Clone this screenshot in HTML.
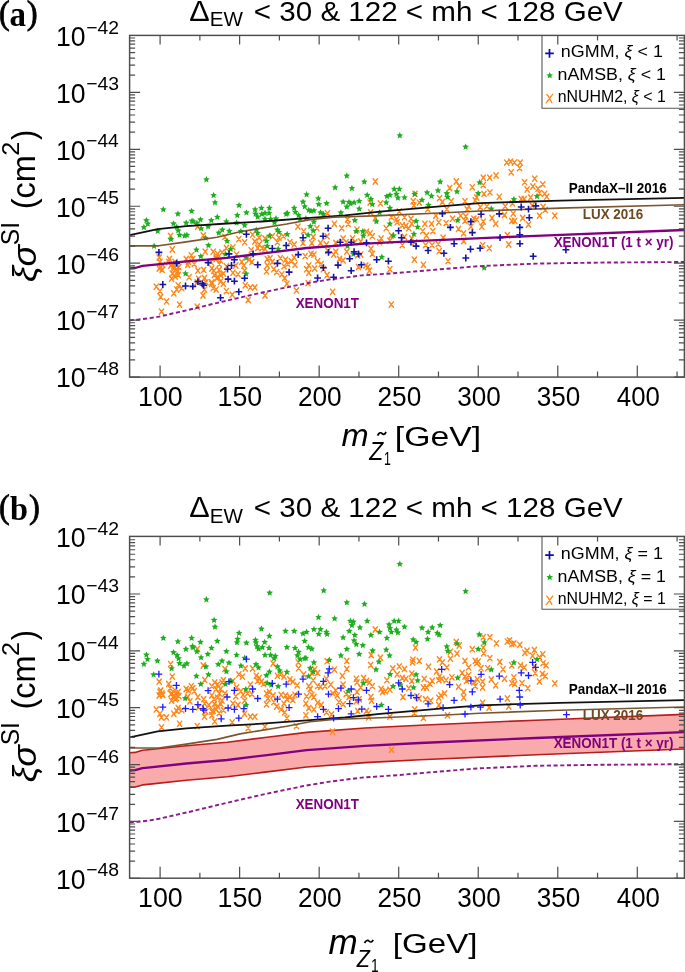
<!DOCTYPE html>
<html><head><meta charset="utf-8"><style>
html,body{margin:0;padding:0;background:#fff;width:685px;height:972px;overflow:hidden}
svg{display:block;will-change:transform}
</style></head><body>
<svg width="685" height="972" viewBox="0 0 685 972"><defs><path id="o" d="M-2.15,-2.7L2.15,2.7M2.15,-2.7L-2.15,2.7" stroke="#ff8719" stroke-width="1.4" stroke-linecap="round" fill="none"/><polygon id="g" points="0.00,-3.20 0.97,-1.03 3.33,-0.78 1.57,0.81 2.06,3.13 0.00,1.95 -2.06,3.13 -1.57,0.81 -3.33,-0.78 -0.97,-1.03" fill="#1fae1f"/><path id="ba" d="M-3.4,0H3.4M0,-3.4V3.4" stroke="#1414a8" stroke-width="1.6" fill="none"/><path id="bb" d="M-3.4,0H3.4M0,-3.4V3.4" stroke="#1c1cff" stroke-width="1.3" fill="none"/></defs>
<rect width="685" height="972" fill="#fff"/>
<g><use href="#o" x="506.7" y="162.6"/><use href="#o" x="510.6" y="161.7"/><use href="#o" x="514.4" y="162.6"/><use href="#o" x="520.2" y="162.6"/><use href="#o" x="511.2" y="172.3"/><use href="#o" x="519.6" y="168.1"/><use href="#o" x="496.1" y="175.5"/><use href="#o" x="489.7" y="177.7"/><use href="#o" x="483.3" y="177.7"/><use href="#o" x="534.7" y="178.7"/><use href="#o" x="166.5" y="301.4"/><use href="#o" x="179.6" y="304.6"/><use href="#o" x="161.5" y="311.6"/><use href="#o" x="197.2" y="306.7"/><use href="#o" x="248.2" y="300.0"/><use href="#o" x="391.3" y="304.6"/><use href="#o" x="197.6" y="226.7"/><use href="#o" x="170.6" y="235.9"/><use href="#o" x="203.3" y="235.5"/><use href="#o" x="224.9" y="236.9"/><use href="#o" x="297.9" y="226.7"/><use href="#o" x="303.7" y="231.1"/><use href="#o" x="316.9" y="228.2"/><use href="#o" x="327.5" y="213.3"/><use href="#o" x="252.6" y="234.7"/><use href="#o" x="259.2" y="237.7"/><use href="#o" x="265.0" y="238.4"/><use href="#o" x="272.3" y="236.2"/><use href="#o" x="283.3" y="236.2"/><use href="#o" x="313.2" y="236.9"/><use href="#o" x="327.1" y="236.2"/><use href="#o" x="238.8" y="239.1"/><use href="#o" x="278.9" y="237.7"/><use href="#o" x="375.3" y="181.5"/><use href="#o" x="380.4" y="203.4"/><use href="#o" x="370.1" y="202.6"/><use href="#o" x="370.6" y="212.4"/><use href="#o" x="413.2" y="201.2"/><use href="#o" x="419.3" y="202.6"/><use href="#o" x="413.9" y="205.5"/><use href="#o" x="415.0" y="193.9"/><use href="#o" x="427.8" y="209.2"/><use href="#o" x="399.3" y="211.4"/><use href="#o" x="391.3" y="217.2"/><use href="#o" x="396.4" y="219.4"/><use href="#o" x="404.5" y="217.2"/><use href="#o" x="411.0" y="218.7"/><use href="#o" x="334.4" y="223.8"/><use href="#o" x="347.5" y="219.4"/><use href="#o" x="348.2" y="224.1"/><use href="#o" x="341.7" y="228.2"/><use href="#o" x="357.0" y="229.6"/><use href="#o" x="366.5" y="231.8"/><use href="#o" x="370.1" y="233.3"/><use href="#o" x="372.3" y="236.2"/><use href="#o" x="386.2" y="228.2"/><use href="#o" x="391.3" y="235.5"/><use href="#o" x="397.2" y="222.3"/><use href="#o" x="402.3" y="225.3"/><use href="#o" x="405.9" y="226.0"/><use href="#o" x="411.8" y="223.8"/><use href="#o" x="408.8" y="228.2"/><use href="#o" x="424.9" y="223.8"/><use href="#o" x="422.7" y="231.1"/><use href="#o" x="426.4" y="235.5"/><use href="#o" x="343.1" y="238.4"/><use href="#o" x="352.6" y="238.4"/><use href="#o" x="381.1" y="238.4"/><use href="#o" x="404.5" y="236.9"/><use href="#o" x="411.8" y="238.4"/><use href="#o" x="375.3" y="218.0"/><use href="#o" x="456.3" y="181.5"/><use href="#o" x="459.2" y="185.8"/><use href="#o" x="449.7" y="188.0"/><use href="#o" x="472.3" y="187.3"/><use href="#o" x="483.3" y="185.1"/><use href="#o" x="484.0" y="193.9"/><use href="#o" x="489.9" y="192.4"/><use href="#o" x="476.7" y="197.5"/><use href="#o" x="475.3" y="200.4"/><use href="#o" x="499.3" y="196.8"/><use href="#o" x="439.5" y="198.2"/><use href="#o" x="442.4" y="201.9"/><use href="#o" x="451.2" y="201.2"/><use href="#o" x="465.0" y="201.2"/><use href="#o" x="468.7" y="206.3"/><use href="#o" x="467.2" y="209.2"/><use href="#o" x="480.4" y="207.0"/><use href="#o" x="486.9" y="206.3"/><use href="#o" x="505.2" y="206.3"/><use href="#o" x="512.5" y="203.4"/><use href="#o" x="521.2" y="199.0"/><use href="#o" x="524.2" y="199.0"/><use href="#o" x="524.6" y="182.2"/><use href="#o" x="527.1" y="189.5"/><use href="#o" x="446.8" y="209.2"/><use href="#o" x="435.8" y="215.8"/><use href="#o" x="438.8" y="222.3"/><use href="#o" x="431.5" y="223.8"/><use href="#o" x="446.1" y="223.1"/><use href="#o" x="452.6" y="218.7"/><use href="#o" x="458.5" y="228.9"/><use href="#o" x="463.6" y="233.3"/><use href="#o" x="465.0" y="220.9"/><use href="#o" x="465.8" y="216.5"/><use href="#o" x="473.8" y="218.7"/><use href="#o" x="476.7" y="219.4"/><use href="#o" x="483.3" y="221.6"/><use href="#o" x="481.8" y="226.7"/><use href="#o" x="492.0" y="218.0"/><use href="#o" x="495.7" y="223.8"/><use href="#o" x="504.5" y="215.0"/><use href="#o" x="513.2" y="213.6"/><use href="#o" x="511.8" y="220.9"/><use href="#o" x="514.7" y="220.9"/><use href="#o" x="522.7" y="218.0"/><use href="#o" x="528.5" y="224.5"/><use href="#o" x="443.1" y="237.7"/><use href="#o" x="507.4" y="235.2"/><use href="#o" x="460.7" y="215.8"/><use href="#o" x="470.9" y="226.7"/><use href="#o" x="432.9" y="231.1"/><use href="#o" x="532.9" y="186.5"/><use href="#o" x="542.8" y="184.3"/><use href="#o" x="538.0" y="188.7"/><use href="#o" x="539.5" y="193.1"/><use href="#o" x="544.6" y="193.8"/><use href="#o" x="546.8" y="196.7"/><use href="#o" x="530.7" y="197.4"/><use href="#o" x="543.1" y="206.9"/><use href="#o" x="545.3" y="209.9"/><use href="#o" x="539.5" y="215.7"/><use href="#o" x="554.8" y="215.7"/><use href="#o" x="532.2" y="205.5"/><use href="#o" x="172.3" y="249.5"/><use href="#o" x="159.2" y="257.5"/><use href="#o" x="169.4" y="259.0"/><use href="#o" x="168.7" y="261.9"/><use href="#o" x="160.7" y="267.0"/><use href="#o" x="162.1" y="269.9"/><use href="#o" x="159.2" y="268.5"/><use href="#o" x="170.9" y="265.5"/><use href="#o" x="173.8" y="268.5"/><use href="#o" x="172.3" y="273.6"/><use href="#o" x="177.4" y="271.4"/><use href="#o" x="175.3" y="276.5"/><use href="#o" x="171.6" y="278.7"/><use href="#o" x="178.2" y="275.0"/><use href="#o" x="186.2" y="259.0"/><use href="#o" x="191.3" y="255.3"/><use href="#o" x="187.7" y="264.8"/><use href="#o" x="194.2" y="264.1"/><use href="#o" x="189.1" y="277.2"/><use href="#o" x="197.9" y="270.7"/><use href="#o" x="203.7" y="269.9"/><use href="#o" x="205.2" y="251.7"/><use href="#o" x="211.0" y="261.9"/><use href="#o" x="213.2" y="251.7"/><use href="#o" x="217.6" y="253.9"/><use href="#o" x="216.1" y="259.0"/><use href="#o" x="222.0" y="252.4"/><use href="#o" x="226.4" y="248.0"/><use href="#o" x="220.5" y="260.4"/><use href="#o" x="211.8" y="268.5"/><use href="#o" x="213.9" y="270.7"/><use href="#o" x="219.1" y="269.9"/><use href="#o" x="223.4" y="273.6"/><use href="#o" x="226.4" y="266.3"/><use href="#o" x="198.6" y="278.7"/><use href="#o" x="204.5" y="278.0"/><use href="#o" x="205.9" y="282.3"/><use href="#o" x="211.8" y="283.8"/><use href="#o" x="216.9" y="278.0"/><use href="#o" x="220.5" y="281.6"/><use href="#o" x="223.4" y="283.8"/><use href="#o" x="213.2" y="288.2"/><use href="#o" x="216.1" y="289.6"/><use href="#o" x="226.4" y="291.1"/><use href="#o" x="156.3" y="286.7"/><use href="#o" x="159.9" y="291.1"/><use href="#o" x="160.7" y="296.9"/><use href="#o" x="173.8" y="293.3"/><use href="#o" x="176.7" y="289.6"/><use href="#o" x="178.2" y="285.3"/><use href="#o" x="181.8" y="288.2"/><use href="#o" x="204.5" y="289.6"/><use href="#o" x="203.0" y="295.5"/><use href="#o" x="197.2" y="282.3"/><use href="#o" x="244.6" y="242.2"/><use href="#o" x="254.8" y="241.5"/><use href="#o" x="259.2" y="244.4"/><use href="#o" x="257.7" y="248.0"/><use href="#o" x="262.1" y="248.0"/><use href="#o" x="265.0" y="248.8"/><use href="#o" x="277.4" y="242.2"/><use href="#o" x="289.9" y="242.2"/><use href="#o" x="294.2" y="244.4"/><use href="#o" x="303.0" y="242.9"/><use href="#o" x="311.8" y="242.9"/><use href="#o" x="320.5" y="242.9"/><use href="#o" x="326.4" y="244.4"/><use href="#o" x="232.9" y="247.3"/><use href="#o" x="236.6" y="254.6"/><use href="#o" x="251.2" y="250.2"/><use href="#o" x="249.0" y="259.7"/><use href="#o" x="251.9" y="261.9"/><use href="#o" x="241.7" y="261.9"/><use href="#o" x="243.9" y="265.5"/><use href="#o" x="235.8" y="265.5"/><use href="#o" x="244.6" y="270.7"/><use href="#o" x="267.2" y="259.0"/><use href="#o" x="270.1" y="258.2"/><use href="#o" x="272.3" y="261.9"/><use href="#o" x="267.2" y="265.5"/><use href="#o" x="280.4" y="258.2"/><use href="#o" x="285.5" y="259.7"/><use href="#o" x="287.7" y="264.1"/><use href="#o" x="291.3" y="261.2"/><use href="#o" x="294.2" y="257.5"/><use href="#o" x="284.0" y="266.3"/><use href="#o" x="273.8" y="269.2"/><use href="#o" x="276.7" y="272.1"/><use href="#o" x="266.5" y="271.4"/><use href="#o" x="281.8" y="274.3"/><use href="#o" x="284.7" y="278.0"/><use href="#o" x="295.0" y="264.8"/><use href="#o" x="305.2" y="256.1"/><use href="#o" x="311.0" y="253.9"/><use href="#o" x="313.9" y="254.6"/><use href="#o" x="317.6" y="261.2"/><use href="#o" x="321.2" y="264.1"/><use href="#o" x="308.8" y="265.5"/><use href="#o" x="306.6" y="269.2"/><use href="#o" x="314.7" y="268.5"/><use href="#o" x="308.8" y="272.8"/><use href="#o" x="327.1" y="275.0"/><use href="#o" x="323.4" y="269.2"/><use href="#o" x="238.0" y="274.3"/><use href="#o" x="232.9" y="272.8"/><use href="#o" x="245.3" y="285.3"/><use href="#o" x="250.4" y="287.4"/><use href="#o" x="254.8" y="287.4"/><use href="#o" x="286.9" y="283.8"/><use href="#o" x="296.4" y="290.4"/><use href="#o" x="308.1" y="283.1"/><use href="#o" x="265.0" y="295.5"/><use href="#o" x="232.2" y="294.7"/><use href="#o" x="327.8" y="250.9"/><use href="#o" x="335.8" y="242.9"/><use href="#o" x="346.1" y="242.2"/><use href="#o" x="354.8" y="242.2"/><use href="#o" x="360.7" y="241.5"/><use href="#o" x="379.6" y="242.2"/><use href="#o" x="389.9" y="240.7"/><use href="#o" x="402.3" y="245.1"/><use href="#o" x="414.7" y="242.2"/><use href="#o" x="425.6" y="245.1"/><use href="#o" x="335.8" y="251.7"/><use href="#o" x="333.6" y="254.6"/><use href="#o" x="346.8" y="251.7"/><use href="#o" x="339.5" y="259.0"/><use href="#o" x="343.1" y="260.4"/><use href="#o" x="370.9" y="248.8"/><use href="#o" x="372.3" y="253.9"/><use href="#o" x="357.7" y="255.3"/><use href="#o" x="360.7" y="254.6"/><use href="#o" x="358.5" y="267.0"/><use href="#o" x="365.8" y="265.5"/><use href="#o" x="368.0" y="267.0"/><use href="#o" x="369.4" y="270.7"/><use href="#o" x="389.9" y="269.2"/><use href="#o" x="414.4" y="259.7"/><use href="#o" x="423.4" y="264.8"/><use href="#o" x="332.6" y="291.8"/><use href="#o" x="432.0" y="245.1"/><use href="#o" x="438.2" y="244.1"/><use href="#o" x="439.2" y="251.2"/><use href="#o" x="448.0" y="261.1"/><use href="#o" x="463.7" y="241.0"/><use href="#o" x="482.7" y="245.1"/><use href="#o" x="489.3" y="248.2"/><use href="#o" x="508.7" y="244.5"/><use href="#o" x="159.9" y="261.9"/><use href="#o" x="162.8" y="264.8"/><use href="#o" x="171.6" y="264.1"/><use href="#o" x="173.8" y="266.3"/><use href="#o" x="176.4" y="269.2"/><use href="#o" x="175.0" y="261.9"/><use href="#o" x="178.9" y="267.0"/><use href="#o" x="188.4" y="261.9"/><use href="#o" x="192.8" y="259.0"/><use href="#o" x="216.1" y="257.5"/><use href="#o" x="219.3" y="264.1"/><use href="#o" x="214.4" y="275.0"/><use href="#o" x="217.9" y="277.2"/><use href="#o" x="220.8" y="275.0"/><use href="#o" x="211.8" y="282.3"/></g>
<g><use href="#g" x="206.4" y="179.3"/><use href="#g" x="346.8" y="175.5"/><use href="#g" x="399.8" y="135.3"/><use href="#g" x="465.6" y="146.6"/><use href="#g" x="213.6" y="195.0"/><use href="#g" x="215.0" y="202.3"/><use href="#g" x="163.3" y="209.2"/><use href="#g" x="177.9" y="213.6"/><use href="#g" x="191.6" y="210.9"/><use href="#g" x="146.4" y="220.1"/><use href="#g" x="147.8" y="223.5"/><use href="#g" x="143.9" y="227.0"/><use href="#g" x="173.5" y="223.4"/><use href="#g" x="176.7" y="226.7"/><use href="#g" x="186.2" y="222.6"/><use href="#g" x="192.0" y="220.6"/><use href="#g" x="193.1" y="221.3"/><use href="#g" x="196.9" y="222.8"/><use href="#g" x="200.5" y="219.4"/><use href="#g" x="211.3" y="220.1"/><use href="#g" x="217.3" y="216.8"/><use href="#g" x="226.4" y="221.2"/><use href="#g" x="157.7" y="230.8"/><use href="#g" x="178.2" y="230.4"/><use href="#g" x="179.6" y="234.7"/><use href="#g" x="184.7" y="235.5"/><use href="#g" x="186.9" y="234.7"/><use href="#g" x="208.1" y="226.4"/><use href="#g" x="201.2" y="228.2"/><use href="#g" x="218.8" y="232.6"/><use href="#g" x="222.3" y="229.6"/><use href="#g" x="229.3" y="230.8"/><use href="#g" x="205.6" y="237.7"/><use href="#g" x="170.9" y="239.1"/><use href="#g" x="239.1" y="205.1"/><use href="#g" x="237.3" y="215.0"/><use href="#g" x="246.4" y="212.4"/><use href="#g" x="236.6" y="222.6"/><use href="#g" x="244.6" y="225.0"/><use href="#g" x="255.1" y="209.2"/><use href="#g" x="255.5" y="213.6"/><use href="#g" x="257.7" y="216.5"/><use href="#g" x="261.4" y="207.7"/><use href="#g" x="261.8" y="213.9"/><use href="#g" x="265.0" y="212.8"/><use href="#g" x="269.4" y="207.7"/><use href="#g" x="269.1" y="212.8"/><use href="#g" x="265.0" y="218.7"/><use href="#g" x="270.6" y="218.7"/><use href="#g" x="276.0" y="218.2"/><use href="#g" x="274.5" y="222.3"/><use href="#g" x="286.2" y="213.9"/><use href="#g" x="287.2" y="212.8"/><use href="#g" x="294.2" y="207.7"/><use href="#g" x="295.4" y="211.8"/><use href="#g" x="298.6" y="215.0"/><use href="#g" x="300.1" y="218.7"/><use href="#g" x="303.0" y="201.6"/><use href="#g" x="304.7" y="206.3"/><use href="#g" x="306.6" y="194.3"/><use href="#g" x="308.8" y="209.9"/><use href="#g" x="311.0" y="210.7"/><use href="#g" x="313.9" y="210.4"/><use href="#g" x="318.3" y="198.2"/><use href="#g" x="318.8" y="204.1"/><use href="#g" x="326.6" y="203.1"/><use href="#g" x="320.5" y="212.4"/><use href="#g" x="323.4" y="213.9"/><use href="#g" x="305.9" y="218.2"/><use href="#g" x="313.9" y="221.6"/><use href="#g" x="310.3" y="226.0"/><use href="#g" x="313.2" y="230.4"/><use href="#g" x="308.1" y="234.7"/><use href="#g" x="277.4" y="229.6"/><use href="#g" x="278.9" y="231.8"/><use href="#g" x="287.2" y="234.0"/><use href="#g" x="269.4" y="235.5"/><use href="#g" x="257.7" y="232.8"/><use href="#g" x="240.9" y="231.1"/><use href="#g" x="256.3" y="229.6"/><use href="#g" x="364.3" y="181.5"/><use href="#g" x="335.1" y="187.3"/><use href="#g" x="351.9" y="188.0"/><use href="#g" x="394.2" y="188.8"/><use href="#g" x="399.3" y="188.8"/><use href="#g" x="367.2" y="194.9"/><use href="#g" x="386.9" y="196.1"/><use href="#g" x="389.9" y="194.9"/><use href="#g" x="396.4" y="193.9"/><use href="#g" x="397.9" y="197.5"/><use href="#g" x="404.5" y="197.2"/><use href="#g" x="414.7" y="193.9"/><use href="#g" x="427.1" y="192.4"/><use href="#g" x="422.0" y="199.7"/><use href="#g" x="343.1" y="201.6"/><use href="#g" x="349.0" y="201.9"/><use href="#g" x="354.1" y="202.2"/><use href="#g" x="359.2" y="200.7"/><use href="#g" x="346.8" y="206.6"/><use href="#g" x="350.4" y="203.4"/><use href="#g" x="359.2" y="208.5"/><use href="#g" x="370.9" y="198.7"/><use href="#g" x="372.3" y="204.1"/><use href="#g" x="386.2" y="202.2"/><use href="#g" x="389.9" y="207.7"/><use href="#g" x="340.9" y="212.4"/><use href="#g" x="379.6" y="212.4"/><use href="#g" x="354.8" y="220.1"/><use href="#g" x="376.4" y="221.2"/><use href="#g" x="389.9" y="223.5"/><use href="#g" x="416.1" y="220.9"/><use href="#g" x="417.6" y="226.7"/><use href="#g" x="356.3" y="231.1"/><use href="#g" x="362.8" y="231.1"/><use href="#g" x="363.3" y="235.5"/><use href="#g" x="393.5" y="235.2"/><use href="#g" x="413.9" y="233.7"/><use href="#g" x="428.5" y="204.8"/><use href="#g" x="440.2" y="181.5"/><use href="#g" x="438.0" y="190.2"/><use href="#g" x="446.8" y="193.1"/><use href="#g" x="447.5" y="196.8"/><use href="#g" x="457.0" y="191.4"/><use href="#g" x="479.6" y="182.2"/><use href="#g" x="478.2" y="193.1"/><use href="#g" x="431.5" y="195.8"/><use href="#g" x="513.9" y="199.0"/><use href="#g" x="491.3" y="208.5"/><use href="#g" x="457.7" y="220.1"/><use href="#g" x="537.0" y="196.0"/><use href="#g" x="154.1" y="245.8"/><use href="#g" x="196.4" y="249.5"/><use href="#g" x="208.5" y="245.1"/><use href="#g" x="200.8" y="256.1"/><use href="#g" x="185.5" y="273.3"/><use href="#g" x="227.1" y="240.7"/><use href="#g" x="225.6" y="253.9"/><use href="#g" x="267.2" y="245.8"/><use href="#g" x="278.2" y="248.8"/><use href="#g" x="246.1" y="257.5"/><use href="#g" x="246.1" y="273.6"/><use href="#g" x="230.7" y="248.8"/><use href="#g" x="266.5" y="240.7"/><use href="#g" x="381.8" y="256.8"/><use href="#g" x="353.4" y="253.9"/><use href="#g" x="347.5" y="245.8"/><use href="#g" x="484.2" y="267.6"/></g>
<path d="M129.7,320.2 L138.0,319.6 L147.5,318.5 L159.2,316.6 L173.8,313.2 L188.4,309.9 L217.6,302.8 L246.8,296.0 L261.4,292.7 L276.0,289.6 L305.2,283.5 L330.0,279.4 L361.8,275.4 L396.8,273.0 L440.0,269.3 L478.0,266.2 L536.0,263.6 L600.0,262.6 L684.0,262.0" fill="none" stroke="#8c1a8c" stroke-width="1.9" stroke-dasharray="4.1 2.6" stroke-linejoin="round"/>
<path d="M129.7,235.2 L157.7,229.2 L186.3,226.2 L227.2,223.5 L262.0,221.5 L310.0,217.9 L345.0,215.3 L380.0,211.6 L440.0,206.4 L480.0,203.1 L560.0,200.7 L684.0,197.9" fill="none" stroke="#111" stroke-width="1.8" stroke-linejoin="round"/>
<path d="M129.7,245.8 L158.7,245.8 L186.3,241.9 L217.0,237.2 L240.0,231.7 L286.7,224.0 L310.0,219.6 L333.4,217.3 L380.0,215.6 L440.0,213.0 L480.0,211.0 L560.0,208.1 L684.0,204.8" fill="none" stroke="#7a5630" stroke-width="1.65" stroke-linejoin="round"/>
<path d="M129.7,268.3 L135.2,268.0 L142.4,265.9 L145.4,265.6 L186.3,261.3 L227.2,257.8 L265.0,253.1 L306.7,248.0 L365.0,243.6 L420.0,240.8 L536.0,235.8 L684.0,230.0" fill="none" stroke="#800080" stroke-width="2.3" stroke-linejoin="round"/>
<g><use href="#ba" x="246.4" y="234.3"/><use href="#ba" x="303.0" y="237.7"/><use href="#ba" x="323.1" y="236.2"/><use href="#ba" x="328.1" y="228.2"/><use href="#ba" x="398.6" y="230.8"/><use href="#ba" x="401.5" y="237.7"/><use href="#ba" x="442.4" y="213.6"/><use href="#ba" x="450.4" y="227.4"/><use href="#ba" x="470.9" y="221.6"/><use href="#ba" x="472.3" y="232.6"/><use href="#ba" x="481.1" y="214.3"/><use href="#ba" x="499.3" y="213.9"/><use href="#ba" x="521.2" y="207.0"/><use href="#ba" x="519.8" y="227.4"/><use href="#ba" x="519.8" y="234.7"/><use href="#ba" x="500.1" y="237.7"/><use href="#ba" x="528.5" y="209.2"/><use href="#ba" x="529.3" y="217.7"/><use href="#ba" x="535.8" y="205.9"/><use href="#ba" x="158.9" y="252.4"/><use href="#ba" x="176.7" y="263.4"/><use href="#ba" x="208.1" y="262.6"/><use href="#ba" x="162.8" y="284.5"/><use href="#ba" x="185.5" y="286.0"/><use href="#ba" x="192.8" y="286.4"/><use href="#ba" x="197.9" y="281.6"/><use href="#ba" x="202.3" y="283.8"/><use href="#ba" x="203.7" y="285.3"/><use href="#ba" x="220.5" y="297.7"/><use href="#ba" x="227.5" y="269.2"/><use href="#ba" x="228.1" y="279.1"/><use href="#ba" x="229.0" y="253.9"/><use href="#ba" x="286.2" y="245.5"/><use href="#ba" x="272.3" y="248.5"/><use href="#ba" x="253.1" y="253.9"/><use href="#ba" x="298.3" y="254.6"/><use href="#ba" x="234.4" y="259.7"/><use href="#ba" x="231.5" y="265.5"/><use href="#ba" x="257.7" y="264.8"/><use href="#ba" x="277.4" y="263.4"/><use href="#ba" x="289.1" y="272.1"/><use href="#ba" x="323.4" y="267.7"/><use href="#ba" x="317.6" y="278.0"/><use href="#ba" x="244.6" y="278.2"/><use href="#ba" x="234.4" y="281.2"/><use href="#ba" x="238.8" y="291.8"/><use href="#ba" x="328.5" y="252.4"/><use href="#ba" x="340.2" y="242.2"/><use href="#ba" x="351.2" y="242.2"/><use href="#ba" x="366.5" y="242.9"/><use href="#ba" x="411.0" y="242.2"/><use href="#ba" x="416.1" y="246.1"/><use href="#ba" x="428.1" y="250.5"/><use href="#ba" x="354.1" y="251.7"/><use href="#ba" x="358.5" y="253.9"/><use href="#ba" x="349.7" y="258.7"/><use href="#ba" x="338.0" y="265.1"/><use href="#ba" x="361.4" y="264.8"/><use href="#ba" x="351.2" y="270.7"/><use href="#ba" x="376.7" y="259.7"/><use href="#ba" x="388.4" y="261.2"/><use href="#ba" x="333.6" y="277.2"/><use href="#ba" x="454.1" y="243.7"/><use href="#ba" x="443.9" y="253.3"/><use href="#ba" x="470.5" y="249.2"/><use href="#ba" x="480.1" y="248.2"/><use href="#ba" x="465.8" y="258.0"/><use href="#ba" x="519.9" y="243.7"/><use href="#ba" x="533.2" y="256.3"/><use href="#ba" x="565.9" y="249.8"/></g>
<rect x="129.6" y="35.40" width="554.80" height="341.70" fill="none" stroke="#4d4d4d" stroke-width="1.45"/>
<path d="M160.10,377.10V365.60M160.10,35.40V44.60M199.87,377.10V371.60M199.87,35.40V40.40M239.63,377.10V365.60M239.63,35.40V44.60M279.40,377.10V371.60M279.40,35.40V40.40M319.17,377.10V365.60M319.17,35.40V44.60M358.94,377.10V371.60M358.94,35.40V40.40M398.70,377.10V365.60M398.70,35.40V44.60M438.47,377.10V371.60M438.47,35.40V40.40M478.24,377.10V365.60M478.24,35.40V44.60M518.01,377.10V371.60M518.01,35.40V40.40M557.77,377.10V365.60M557.77,35.40V44.60M597.54,377.10V371.60M597.54,35.40V40.40M637.31,377.10V365.60M677.08,377.10V371.60M677.08,35.40V40.40M129.60,377.10H140.10M684.40,377.10H673.90M129.60,359.96H135.10M684.40,359.96H678.90M129.60,349.93H135.10M684.40,349.93H678.90M129.60,342.81H135.10M684.40,342.81H678.90M129.60,337.29H135.10M684.40,337.29H678.90M129.60,332.78H135.10M684.40,332.78H678.90M129.60,328.97H135.10M684.40,328.97H678.90M129.60,325.67H135.10M684.40,325.67H678.90M129.60,322.76H135.10M684.40,322.76H678.90M129.60,320.15H140.10M684.40,320.15H673.90M129.60,303.01H135.10M684.40,303.01H678.90M129.60,292.98H135.10M684.40,292.98H678.90M129.60,285.86H135.10M684.40,285.86H678.90M129.60,280.34H135.10M684.40,280.34H678.90M129.60,275.83H135.10M684.40,275.83H678.90M129.60,272.02H135.10M684.40,272.02H678.90M129.60,268.72H135.10M684.40,268.72H678.90M129.60,265.81H135.10M684.40,265.81H678.90M129.60,263.20H140.10M684.40,263.20H673.90M129.60,246.06H135.10M684.40,246.06H678.90M129.60,236.03H135.10M684.40,236.03H678.90M129.60,228.91H135.10M684.40,228.91H678.90M129.60,223.39H135.10M684.40,223.39H678.90M129.60,218.88H135.10M684.40,218.88H678.90M129.60,215.07H135.10M684.40,215.07H678.90M129.60,211.77H135.10M684.40,211.77H678.90M129.60,208.86H135.10M684.40,208.86H678.90M129.60,206.25H140.10M684.40,206.25H673.90M129.60,189.11H135.10M684.40,189.11H678.90M129.60,179.08H135.10M684.40,179.08H678.90M129.60,171.96H135.10M684.40,171.96H678.90M129.60,166.44H135.10M684.40,166.44H678.90M129.60,161.93H135.10M684.40,161.93H678.90M129.60,158.12H135.10M684.40,158.12H678.90M129.60,154.82H135.10M684.40,154.82H678.90M129.60,151.91H135.10M684.40,151.91H678.90M129.60,149.30H140.10M684.40,149.30H673.90M129.60,132.16H135.10M684.40,132.16H678.90M129.60,122.13H135.10M684.40,122.13H678.90M129.60,115.01H135.10M684.40,115.01H678.90M129.60,109.49H135.10M684.40,109.49H678.90M129.60,104.98H135.10M684.40,104.98H678.90M129.60,101.17H135.10M684.40,101.17H678.90M129.60,97.87H135.10M684.40,97.87H678.90M129.60,94.96H135.10M684.40,94.96H678.90M129.60,92.35H140.10M684.40,92.35H673.90M129.60,75.21H135.10M684.40,75.21H678.90M129.60,65.18H135.10M684.40,65.18H678.90M129.60,58.06H135.10M684.40,58.06H678.90M129.60,52.54H135.10M684.40,52.54H678.90M129.60,48.03H135.10M684.40,48.03H678.90M129.60,44.22H135.10M684.40,44.22H678.90M129.60,40.92H135.10M684.40,40.92H678.90M129.60,38.01H135.10M684.40,38.01H678.90" stroke="#4d4d4d" stroke-width="1.2" fill="none"/>
<text x="55.97" y="45.70" font-family="Liberation Sans" font-size="27.5" fill="#000" textLength="29.58" lengthAdjust="spacingAndGlyphs">10</text>
<text x="86.23" y="33.50" font-family="Liberation Sans" font-size="18.7" textLength="32.86" lengthAdjust="spacingAndGlyphs">&#8722;42</text>
<text x="55.97" y="102.65" font-family="Liberation Sans" font-size="27.5" fill="#000" textLength="29.58" lengthAdjust="spacingAndGlyphs">10</text>
<text x="86.23" y="90.45" font-family="Liberation Sans" font-size="18.7" textLength="32.86" lengthAdjust="spacingAndGlyphs">&#8722;43</text>
<text x="55.97" y="159.60" font-family="Liberation Sans" font-size="27.5" fill="#000" textLength="29.58" lengthAdjust="spacingAndGlyphs">10</text>
<text x="86.24" y="147.40" font-family="Liberation Sans" font-size="18.7" textLength="32.46" lengthAdjust="spacingAndGlyphs">&#8722;44</text>
<text x="55.97" y="216.55" font-family="Liberation Sans" font-size="27.5" fill="#000" textLength="29.58" lengthAdjust="spacingAndGlyphs">10</text>
<text x="86.24" y="204.35" font-family="Liberation Sans" font-size="18.7" textLength="32.66" lengthAdjust="spacingAndGlyphs">&#8722;45</text>
<text x="55.97" y="273.50" font-family="Liberation Sans" font-size="27.5" fill="#000" textLength="29.58" lengthAdjust="spacingAndGlyphs">10</text>
<text x="86.23" y="261.30" font-family="Liberation Sans" font-size="18.7" textLength="32.86" lengthAdjust="spacingAndGlyphs">&#8722;46</text>
<text x="55.97" y="330.45" font-family="Liberation Sans" font-size="27.5" fill="#000" textLength="29.58" lengthAdjust="spacingAndGlyphs">10</text>
<text x="86.23" y="318.25" font-family="Liberation Sans" font-size="18.7" textLength="32.86" lengthAdjust="spacingAndGlyphs">&#8722;47</text>
<text x="55.97" y="387.40" font-family="Liberation Sans" font-size="27.5" fill="#000" textLength="29.58" lengthAdjust="spacingAndGlyphs">10</text>
<text x="86.23" y="375.20" font-family="Liberation Sans" font-size="18.7" textLength="32.86" lengthAdjust="spacingAndGlyphs">&#8722;48</text>
<text x="138.01" y="406.00" font-family="Liberation Sans" font-size="28" fill="#000" textLength="44.67" lengthAdjust="spacingAndGlyphs">100</text>
<text x="217.54" y="406.00" font-family="Liberation Sans" font-size="28" fill="#000" textLength="44.67" lengthAdjust="spacingAndGlyphs">150</text>
<text x="297.91" y="406.00" font-family="Liberation Sans" font-size="28" fill="#000" textLength="43.82" lengthAdjust="spacingAndGlyphs">200</text>
<text x="377.44" y="406.00" font-family="Liberation Sans" font-size="28" fill="#000" textLength="43.82" lengthAdjust="spacingAndGlyphs">250</text>
<text x="457.25" y="406.00" font-family="Liberation Sans" font-size="28" fill="#000" textLength="43.54" lengthAdjust="spacingAndGlyphs">300</text>
<text x="536.78" y="406.00" font-family="Liberation Sans" font-size="28" fill="#000" textLength="43.54" lengthAdjust="spacingAndGlyphs">350</text>
<text x="616.84" y="406.00" font-family="Liberation Sans" font-size="28" fill="#000" textLength="43.00" lengthAdjust="spacingAndGlyphs">400</text>
<text x="568.66" y="193.10" font-family="Liberation Sans" font-size="14" font-weight="bold" fill="#000" textLength="98.17" lengthAdjust="spacingAndGlyphs">PandaX–II 2016</text>
<text x="582.86" y="218.80" font-family="Liberation Sans" font-size="14" font-weight="bold" fill="#6e4a22" textLength="60.27" lengthAdjust="spacingAndGlyphs">LUX 2016</text>
<text x="553.67" y="247.00" font-family="Liberation Sans" font-size="14" font-weight="bold" fill="#800080" textLength="119.89" lengthAdjust="spacingAndGlyphs">XENON1T (1 t × yr)</text>
<text x="295.67" y="307.70" font-family="Liberation Sans" font-size="14" font-weight="bold" fill="#800080" textLength="63.31" lengthAdjust="spacingAndGlyphs">XENON1T</text>
<path d="M542,35.40V108.30H684.40" fill="none" stroke="#555" stroke-width="1.1"/>
<path d="M545.2,53.4H553.8M549.5,49.1V57.7" stroke="#0c0ca8" stroke-width="1.7" fill="none"/>
<use href="#g" x="549.7" y="75.2"/>
<path d="M546.8,94.5C548.5,96.0 550,99.0 551.8,102.6M552.8,94.2C551,96.5 548.5,100.0 546.2,102.8" stroke="#ff8a1c" stroke-width="1.3" stroke-linecap="round" fill="none"/>
<text x="560.85" y="57.40" font-family="Liberation Sans" font-size="15.8" fill="#000" textLength="102.03" lengthAdjust="spacingAndGlyphs">nGMM, <tspan font-style="italic">ξ</tspan> &lt; 1</text>
<text x="557.55" y="79.90" font-family="Liberation Sans" font-size="15.8" fill="#000" textLength="108.43" lengthAdjust="spacingAndGlyphs">nAMSB, <tspan font-style="italic">ξ</tspan> &lt; 1</text>
<text x="557.69" y="102.40" font-family="Liberation Sans" font-size="15.8" fill="#000" textLength="108.22" lengthAdjust="spacingAndGlyphs">nNUHM2, <tspan font-style="italic">ξ</tspan> &lt; 1</text>
<text x="189.28" y="20.80" font-family="Liberation Sans" font-size="29" fill="#000" textLength="20.48" lengthAdjust="spacingAndGlyphs">Δ</text>
<text x="209.85" y="26.30" font-family="Liberation Sans" font-size="20.5" fill="#000" textLength="33.17" lengthAdjust="spacingAndGlyphs">EW</text>
<text x="253.82" y="20.90" font-family="Liberation Sans" font-size="28.3" fill="#000" textLength="368.99" lengthAdjust="spacingAndGlyphs">&lt; 30 &amp; 122 &lt; mh &lt; 128 GeV</text>
<text x="-1.09" y="24.10" font-family="Liberation Serif" font-size="33" fill="#000" textLength="10.76" lengthAdjust="spacingAndGlyphs" stroke="#000" stroke-width="0.75">(</text>
<text x="9.61" y="25.60" font-family="Liberation Serif" font-size="35.5" font-weight="bold" fill="#000" textLength="16.52" lengthAdjust="spacingAndGlyphs">a</text>
<text x="26.82" y="24.10" font-family="Liberation Serif" font-size="33" fill="#000" textLength="10.89" lengthAdjust="spacingAndGlyphs" stroke="#000" stroke-width="0.75">)</text>
<g transform="rotate(-90)"><text x="-281.98" y="35.60" font-family="Liberation Sans" font-size="34" font-style="italic" fill="#000" textLength="37.20" lengthAdjust="spacingAndGlyphs">ξσ</text><text x="-245.13" y="18.50" font-family="Liberation Sans" font-size="25.5" fill="#000" textLength="23.21" lengthAdjust="spacingAndGlyphs">SI</text><text x="-209.35" y="35.20" font-family="Liberation Sans" font-size="34" fill="#000" textLength="54.09" lengthAdjust="spacingAndGlyphs">(cm</text><text x="-155.86" y="18.50" font-family="Liberation Sans" font-size="24" fill="#000" textLength="14.02" lengthAdjust="spacingAndGlyphs">2</text><text x="-140.10" y="35.20" font-family="Liberation Sans" font-size="34" fill="#000" textLength="10.12" lengthAdjust="spacingAndGlyphs">)</text></g>
<polygon points="129.7,752.7 135.2,752.4 142.4,750.3 145.4,750.0 186.3,745.7 227.2,742.2 265.0,737.5 306.7,732.4 365.0,728.0 420.0,725.2 536.0,720.2 684.0,714.4 684.0,749.0 536.0,754.8 420.0,759.8 365.0,762.6 306.7,767.0 265.0,772.1 227.2,776.8 186.3,780.3 145.4,784.6 142.4,784.9 135.2,787.0 129.7,787.3" fill="#f9abab" stroke="none"/>
<path d="M129.7,752.7 L135.2,752.4 L142.4,750.3 L145.4,750.0 L186.3,745.7 L227.2,742.2 L265.0,737.5 L306.7,732.4 L365.0,728.0 L420.0,725.2 L536.0,720.2 L684.0,714.4" fill="none" stroke="#b81c1c" stroke-width="1.6" stroke-linejoin="round"/>
<path d="M129.7,787.3 L135.2,787.0 L142.4,784.9 L145.4,784.6 L186.3,780.3 L227.2,776.8 L265.0,772.1 L306.7,767.0 L365.0,762.6 L420.0,759.8 L536.0,754.8 L684.0,749.0" fill="none" stroke="#b81c1c" stroke-width="1.6" stroke-linejoin="round"/>
<g><use href="#o" x="332.5" y="731.7"/><use href="#o" x="391.5" y="749.8"/><use href="#o" x="197.4" y="648.9"/><use href="#o" x="170.6" y="664.1"/><use href="#o" x="203.3" y="665.5"/><use href="#o" x="224.9" y="668.9"/><use href="#o" x="273.1" y="663.5"/><use href="#o" x="298.3" y="662.3"/><use href="#o" x="298.6" y="668.2"/><use href="#o" x="327.1" y="661.2"/><use href="#o" x="245.3" y="668.5"/><use href="#o" x="252.6" y="668.5"/><use href="#o" x="314.7" y="669.3"/><use href="#o" x="375.3" y="629.5"/><use href="#o" x="371.2" y="655.0"/><use href="#o" x="380.4" y="657.7"/><use href="#o" x="370.6" y="665.0"/><use href="#o" x="346.8" y="660.9"/><use href="#o" x="346.8" y="668.9"/><use href="#o" x="334.4" y="669.6"/><use href="#o" x="415.4" y="647.7"/><use href="#o" x="412.9" y="659.7"/><use href="#o" x="412.5" y="662.3"/><use href="#o" x="419.3" y="660.9"/><use href="#o" x="399.3" y="666.4"/><use href="#o" x="392.8" y="668.5"/><use href="#o" x="404.5" y="668.9"/><use href="#o" x="428.5" y="666.7"/><use href="#o" x="483.3" y="637.2"/><use href="#o" x="489.9" y="637.2"/><use href="#o" x="496.4" y="643.4"/><use href="#o" x="507.4" y="641.6"/><use href="#o" x="509.6" y="640.4"/><use href="#o" x="511.8" y="644.1"/><use href="#o" x="513.9" y="643.4"/><use href="#o" x="519.8" y="644.8"/><use href="#o" x="456.3" y="641.9"/><use href="#o" x="459.2" y="645.5"/><use href="#o" x="472.3" y="649.2"/><use href="#o" x="483.3" y="647.7"/><use href="#o" x="483.7" y="653.3"/><use href="#o" x="450.4" y="651.8"/><use href="#o" x="457.0" y="653.6"/><use href="#o" x="450.4" y="658.7"/><use href="#o" x="439.5" y="659.4"/><use href="#o" x="442.4" y="662.3"/><use href="#o" x="446.8" y="667.4"/><use href="#o" x="465.0" y="660.9"/><use href="#o" x="475.3" y="660.9"/><use href="#o" x="476.7" y="663.1"/><use href="#o" x="478.2" y="661.6"/><use href="#o" x="468.7" y="667.4"/><use href="#o" x="489.9" y="658.2"/><use href="#o" x="499.8" y="662.0"/><use href="#o" x="511.8" y="665.3"/><use href="#o" x="520.5" y="665.3"/><use href="#o" x="524.2" y="667.4"/><use href="#o" x="524.9" y="652.8"/><use href="#o" x="527.1" y="650.7"/><use href="#o" x="503.0" y="669.3"/><use href="#o" x="481.1" y="668.2"/><use href="#o" x="487.7" y="668.2"/><use href="#o" x="534.4" y="649.9"/><use href="#o" x="532.6" y="655.8"/><use href="#o" x="542.8" y="654.3"/><use href="#o" x="539.5" y="657.2"/><use href="#o" x="543.1" y="663.1"/><use href="#o" x="546.1" y="665.3"/><use href="#o" x="534.4" y="666.7"/><use href="#o" x="172.3" y="676.6"/><use href="#o" x="159.2" y="681.7"/><use href="#o" x="168.7" y="683.9"/><use href="#o" x="170.1" y="688.2"/><use href="#o" x="160.7" y="690.4"/><use href="#o" x="162.1" y="693.4"/><use href="#o" x="159.2" y="695.5"/><use href="#o" x="170.9" y="694.1"/><use href="#o" x="173.1" y="697.0"/><use href="#o" x="171.6" y="700.7"/><use href="#o" x="176.7" y="694.8"/><use href="#o" x="178.2" y="691.9"/><use href="#o" x="175.3" y="699.2"/><use href="#o" x="186.2" y="689.0"/><use href="#o" x="191.3" y="686.1"/><use href="#o" x="194.2" y="691.2"/><use href="#o" x="187.7" y="697.0"/><use href="#o" x="189.9" y="701.4"/><use href="#o" x="197.9" y="697.0"/><use href="#o" x="203.7" y="699.2"/><use href="#o" x="204.7" y="679.9"/><use href="#o" x="211.8" y="686.1"/><use href="#o" x="214.7" y="682.4"/><use href="#o" x="217.6" y="684.6"/><use href="#o" x="222.0" y="682.4"/><use href="#o" x="220.5" y="689.0"/><use href="#o" x="211.8" y="695.5"/><use href="#o" x="213.9" y="699.2"/><use href="#o" x="217.6" y="697.7"/><use href="#o" x="222.0" y="700.7"/><use href="#o" x="224.9" y="693.4"/><use href="#o" x="198.6" y="707.2"/><use href="#o" x="204.5" y="703.6"/><use href="#o" x="205.9" y="711.6"/><use href="#o" x="213.2" y="710.9"/><use href="#o" x="216.1" y="709.4"/><use href="#o" x="219.1" y="713.1"/><use href="#o" x="223.4" y="710.1"/><use href="#o" x="211.8" y="715.3"/><use href="#o" x="156.3" y="709.4"/><use href="#o" x="159.9" y="713.8"/><use href="#o" x="161.4" y="717.4"/><use href="#o" x="173.8" y="713.8"/><use href="#o" x="176.7" y="710.9"/><use href="#o" x="178.2" y="708.0"/><use href="#o" x="181.8" y="710.1"/><use href="#o" x="204.5" y="716.7"/><use href="#o" x="166.5" y="717.4"/><use href="#o" x="223.4" y="680.2"/><use href="#o" x="208.8" y="705.0"/><use href="#o" x="238.8" y="674.4"/><use href="#o" x="242.4" y="676.6"/><use href="#o" x="256.3" y="675.8"/><use href="#o" x="259.2" y="678.0"/><use href="#o" x="257.7" y="680.9"/><use href="#o" x="261.4" y="681.7"/><use href="#o" x="263.6" y="683.9"/><use href="#o" x="277.4" y="675.8"/><use href="#o" x="280.4" y="674.4"/><use href="#o" x="284.0" y="676.6"/><use href="#o" x="289.9" y="679.5"/><use href="#o" x="292.8" y="681.7"/><use href="#o" x="297.2" y="685.3"/><use href="#o" x="303.7" y="674.4"/><use href="#o" x="311.8" y="672.9"/><use href="#o" x="317.6" y="672.9"/><use href="#o" x="313.2" y="680.2"/><use href="#o" x="308.8" y="686.1"/><use href="#o" x="310.3" y="689.0"/><use href="#o" x="317.6" y="686.1"/><use href="#o" x="320.5" y="686.8"/><use href="#o" x="324.9" y="686.1"/><use href="#o" x="326.4" y="678.8"/><use href="#o" x="232.9" y="680.9"/><use href="#o" x="236.6" y="687.5"/><use href="#o" x="240.9" y="691.2"/><use href="#o" x="243.1" y="694.8"/><use href="#o" x="235.8" y="696.3"/><use href="#o" x="247.5" y="693.4"/><use href="#o" x="250.4" y="684.6"/><use href="#o" x="251.9" y="694.1"/><use href="#o" x="244.6" y="700.7"/><use href="#o" x="232.9" y="703.6"/><use href="#o" x="238.0" y="705.0"/><use href="#o" x="266.5" y="693.4"/><use href="#o" x="269.4" y="691.9"/><use href="#o" x="273.1" y="695.5"/><use href="#o" x="268.0" y="698.5"/><use href="#o" x="266.5" y="704.3"/><use href="#o" x="273.8" y="702.1"/><use href="#o" x="276.7" y="706.5"/><use href="#o" x="281.1" y="694.8"/><use href="#o" x="285.5" y="695.5"/><use href="#o" x="286.9" y="699.2"/><use href="#o" x="289.9" y="697.0"/><use href="#o" x="292.8" y="699.9"/><use href="#o" x="295.0" y="694.8"/><use href="#o" x="284.0" y="703.6"/><use href="#o" x="281.1" y="709.4"/><use href="#o" x="284.7" y="712.3"/><use href="#o" x="306.6" y="696.3"/><use href="#o" x="311.8" y="694.8"/><use href="#o" x="313.9" y="697.0"/><use href="#o" x="305.9" y="703.6"/><use href="#o" x="308.8" y="708.0"/><use href="#o" x="313.9" y="709.4"/><use href="#o" x="317.6" y="702.8"/><use href="#o" x="321.2" y="705.0"/><use href="#o" x="326.4" y="712.3"/><use href="#o" x="244.6" y="713.8"/><use href="#o" x="250.4" y="716.7"/><use href="#o" x="254.8" y="716.7"/><use href="#o" x="305.9" y="715.3"/><use href="#o" x="286.9" y="718.2"/><use href="#o" x="342.4" y="675.8"/><use href="#o" x="356.3" y="678.8"/><use href="#o" x="357.0" y="682.4"/><use href="#o" x="363.6" y="678.0"/><use href="#o" x="366.5" y="680.9"/><use href="#o" x="369.4" y="682.4"/><use href="#o" x="372.3" y="686.1"/><use href="#o" x="360.7" y="687.5"/><use href="#o" x="357.0" y="691.9"/><use href="#o" x="343.1" y="684.6"/><use href="#o" x="335.8" y="690.4"/><use href="#o" x="332.9" y="693.4"/><use href="#o" x="337.3" y="695.5"/><use href="#o" x="346.1" y="694.1"/><use href="#o" x="349.0" y="697.0"/><use href="#o" x="338.8" y="702.1"/><use href="#o" x="343.1" y="704.3"/><use href="#o" x="356.3" y="701.4"/><use href="#o" x="359.2" y="699.2"/><use href="#o" x="370.9" y="697.0"/><use href="#o" x="371.6" y="700.7"/><use href="#o" x="366.5" y="710.9"/><use href="#o" x="368.7" y="713.1"/><use href="#o" x="357.7" y="710.9"/><use href="#o" x="381.1" y="689.0"/><use href="#o" x="382.6" y="691.9"/><use href="#o" x="385.5" y="691.2"/><use href="#o" x="386.9" y="680.2"/><use href="#o" x="389.9" y="689.7"/><use href="#o" x="397.2" y="674.4"/><use href="#o" x="402.3" y="678.0"/><use href="#o" x="405.9" y="678.8"/><use href="#o" x="411.8" y="673.6"/><use href="#o" x="411.8" y="680.9"/><use href="#o" x="408.8" y="688.2"/><use href="#o" x="403.0" y="697.0"/><use href="#o" x="416.9" y="696.3"/><use href="#o" x="419.1" y="698.5"/><use href="#o" x="424.2" y="678.8"/><use href="#o" x="423.4" y="687.5"/><use href="#o" x="426.4" y="687.5"/><use href="#o" x="425.6" y="699.2"/><use href="#o" x="414.7" y="709.4"/><use href="#o" x="414.4" y="713.1"/><use href="#o" x="389.9" y="716.7"/><use href="#o" x="368.7" y="717.4"/><use href="#o" x="330.7" y="684.6"/><use href="#o" x="331.5" y="714.5"/><use href="#o" x="423.4" y="717.9"/><use href="#o" x="436.6" y="671.5"/><use href="#o" x="432.2" y="680.9"/><use href="#o" x="439.5" y="676.6"/><use href="#o" x="438.8" y="680.2"/><use href="#o" x="441.7" y="678.8"/><use href="#o" x="446.1" y="680.2"/><use href="#o" x="451.9" y="677.3"/><use href="#o" x="458.5" y="686.8"/><use href="#o" x="463.6" y="691.9"/><use href="#o" x="463.6" y="697.7"/><use href="#o" x="462.1" y="672.9"/><use href="#o" x="465.0" y="676.6"/><use href="#o" x="468.7" y="675.1"/><use href="#o" x="466.5" y="680.9"/><use href="#o" x="473.8" y="682.4"/><use href="#o" x="475.3" y="686.1"/><use href="#o" x="477.4" y="679.5"/><use href="#o" x="482.6" y="681.7"/><use href="#o" x="482.6" y="687.5"/><use href="#o" x="491.3" y="679.5"/><use href="#o" x="495.7" y="685.3"/><use href="#o" x="504.5" y="678.8"/><use href="#o" x="511.8" y="683.1"/><use href="#o" x="513.9" y="677.3"/><use href="#o" x="514.7" y="683.9"/><use href="#o" x="522.0" y="683.1"/><use href="#o" x="527.8" y="688.2"/><use href="#o" x="430.7" y="700.7"/><use href="#o" x="438.8" y="697.7"/><use href="#o" x="440.9" y="695.5"/><use href="#o" x="444.6" y="693.4"/><use href="#o" x="438.8" y="705.0"/><use href="#o" x="447.5" y="715.3"/><use href="#o" x="482.6" y="702.8"/><use href="#o" x="489.1" y="707.7"/><use href="#o" x="507.4" y="698.5"/><use href="#o" x="508.8" y="706.5"/><use href="#o" x="430.0" y="683.9"/><use href="#o" x="535.1" y="673.1"/><use href="#o" x="542.4" y="673.9"/><use href="#o" x="545.3" y="676.1"/><use href="#o" x="539.5" y="681.6"/><use href="#o" x="554.8" y="683.4"/><use href="#o" x="161.5" y="727.3"/><use href="#o" x="179.6" y="723.8"/><use href="#o" x="197.2" y="726.1"/><use href="#o" x="214.7" y="721.4"/><use href="#o" x="232.2" y="722.3"/><use href="#o" x="248.2" y="728.1"/><use href="#o" x="264.9" y="726.7"/><use href="#o" x="296.4" y="726.1"/><use href="#o" x="159.9" y="691.9"/><use href="#o" x="162.8" y="695.1"/><use href="#o" x="171.6" y="693.4"/><use href="#o" x="173.8" y="696.0"/><use href="#o" x="176.4" y="698.0"/><use href="#o" x="175.0" y="690.4"/><use href="#o" x="178.9" y="696.0"/><use href="#o" x="188.4" y="690.4"/><use href="#o" x="192.8" y="688.2"/><use href="#o" x="216.1" y="689.0"/><use href="#o" x="219.3" y="693.4"/><use href="#o" x="214.4" y="703.9"/><use href="#o" x="217.9" y="706.5"/><use href="#o" x="220.8" y="703.9"/><use href="#o" x="211.8" y="711.2"/></g>
<g><use href="#g" x="206.4" y="599.3"/><use href="#g" x="269.7" y="592.6"/><use href="#g" x="323.7" y="590.3"/><use href="#g" x="346.8" y="602.2"/><use href="#g" x="318.5" y="617.0"/><use href="#g" x="334.6" y="618.3"/><use href="#g" x="214.1" y="619.9"/><use href="#g" x="399.8" y="563.7"/><use href="#g" x="465.6" y="591.0"/><use href="#g" x="364.5" y="603.8"/><use href="#g" x="215.0" y="626.6"/><use href="#g" x="163.3" y="637.8"/><use href="#g" x="177.9" y="641.2"/><use href="#g" x="191.6" y="637.8"/><use href="#g" x="200.5" y="641.9"/><use href="#g" x="217.3" y="640.9"/><use href="#g" x="185.9" y="648.8"/><use href="#g" x="192.5" y="646.0"/><use href="#g" x="193.1" y="647.4"/><use href="#g" x="196.9" y="651.4"/><use href="#g" x="211.5" y="647.7"/><use href="#g" x="226.4" y="651.1"/><use href="#g" x="173.5" y="652.1"/><use href="#g" x="177.0" y="655.0"/><use href="#g" x="178.6" y="658.2"/><use href="#g" x="146.4" y="654.6"/><use href="#g" x="147.5" y="659.0"/><use href="#g" x="143.9" y="663.8"/><use href="#g" x="157.4" y="660.6"/><use href="#g" x="179.6" y="663.1"/><use href="#g" x="184.0" y="665.5"/><use href="#g" x="186.9" y="663.4"/><use href="#g" x="201.1" y="657.2"/><use href="#g" x="207.8" y="653.9"/><use href="#g" x="222.0" y="660.6"/><use href="#g" x="218.3" y="664.1"/><use href="#g" x="229.0" y="662.6"/><use href="#g" x="205.9" y="666.4"/><use href="#g" x="171.6" y="668.2"/><use href="#g" x="261.4" y="628.5"/><use href="#g" x="239.1" y="632.8"/><use href="#g" x="237.6" y="638.7"/><use href="#g" x="237.0" y="642.2"/><use href="#g" x="246.4" y="642.6"/><use href="#g" x="255.5" y="639.7"/><use href="#g" x="256.0" y="642.2"/><use href="#g" x="257.0" y="646.0"/><use href="#g" x="258.5" y="648.5"/><use href="#g" x="262.4" y="647.0"/><use href="#g" x="264.7" y="641.9"/><use href="#g" x="269.4" y="635.8"/><use href="#g" x="269.1" y="647.7"/><use href="#g" x="285.5" y="630.9"/><use href="#g" x="294.2" y="630.9"/><use href="#g" x="303.0" y="633.4"/><use href="#g" x="306.6" y="631.7"/><use href="#g" x="313.9" y="629.1"/><use href="#g" x="320.5" y="629.1"/><use href="#g" x="318.8" y="633.9"/><use href="#g" x="326.4" y="631.7"/><use href="#g" x="327.1" y="633.9"/><use href="#g" x="304.7" y="640.7"/><use href="#g" x="286.9" y="647.0"/><use href="#g" x="295.0" y="647.7"/><use href="#g" x="308.5" y="647.0"/><use href="#g" x="311.8" y="648.5"/><use href="#g" x="298.6" y="651.8"/><use href="#g" x="297.4" y="655.3"/><use href="#g" x="300.1" y="659.1"/><use href="#g" x="304.5" y="658.2"/><use href="#g" x="305.9" y="657.7"/><use href="#g" x="236.6" y="654.7"/><use href="#g" x="265.0" y="654.7"/><use href="#g" x="270.6" y="654.7"/><use href="#g" x="275.3" y="655.8"/><use href="#g" x="274.1" y="658.0"/><use href="#g" x="240.9" y="665.5"/><use href="#g" x="256.0" y="664.1"/><use href="#g" x="258.5" y="667.4"/><use href="#g" x="277.4" y="666.4"/><use href="#g" x="313.9" y="662.3"/><use href="#g" x="310.3" y="667.9"/><use href="#g" x="329.3" y="659.7"/><use href="#g" x="244.6" y="657.7"/><use href="#g" x="350.4" y="620.7"/><use href="#g" x="353.4" y="621.5"/><use href="#g" x="351.9" y="625.1"/><use href="#g" x="367.2" y="620.7"/><use href="#g" x="394.2" y="620.7"/><use href="#g" x="398.6" y="620.7"/><use href="#g" x="359.9" y="627.3"/><use href="#g" x="349.3" y="630.9"/><use href="#g" x="354.8" y="634.9"/><use href="#g" x="343.1" y="637.2"/><use href="#g" x="354.1" y="640.4"/><use href="#g" x="356.3" y="644.1"/><use href="#g" x="362.8" y="645.1"/><use href="#g" x="346.8" y="648.9"/><use href="#g" x="340.9" y="655.3"/><use href="#g" x="359.2" y="653.9"/><use href="#g" x="370.9" y="634.9"/><use href="#g" x="379.6" y="631.7"/><use href="#g" x="389.1" y="624.4"/><use href="#g" x="389.9" y="628.0"/><use href="#g" x="391.3" y="631.7"/><use href="#g" x="396.4" y="629.5"/><use href="#g" x="397.9" y="632.4"/><use href="#g" x="404.5" y="626.6"/><use href="#g" x="386.9" y="637.8"/><use href="#g" x="422.0" y="627.6"/><use href="#g" x="428.1" y="631.7"/><use href="#g" x="427.5" y="638.7"/><use href="#g" x="413.2" y="639.3"/><use href="#g" x="416.1" y="641.9"/><use href="#g" x="386.2" y="649.5"/><use href="#g" x="389.6" y="655.3"/><use href="#g" x="372.6" y="650.4"/><use href="#g" x="378.9" y="661.6"/><use href="#g" x="376.0" y="669.3"/><use href="#g" x="440.2" y="625.1"/><use href="#g" x="432.2" y="627.3"/><use href="#g" x="437.3" y="632.8"/><use href="#g" x="439.1" y="634.6"/><use href="#g" x="479.3" y="634.3"/><use href="#g" x="484.3" y="642.2"/><use href="#g" x="446.8" y="646.3"/><use href="#g" x="447.8" y="650.7"/><use href="#g" x="457.0" y="643.4"/><use href="#g" x="478.2" y="648.9"/><use href="#g" x="513.9" y="662.3"/><use href="#g" x="491.3" y="669.3"/><use href="#g" x="537.0" y="659.1"/><use href="#g" x="153.6" y="674.4"/><use href="#g" x="196.4" y="675.8"/><use href="#g" x="208.5" y="674.4"/><use href="#g" x="200.8" y="683.9"/><use href="#g" x="185.2" y="698.0"/><use href="#g" x="226.4" y="671.2"/><use href="#g" x="225.6" y="683.9"/><use href="#g" x="269.4" y="671.5"/><use href="#g" x="266.5" y="675.1"/><use href="#g" x="286.9" y="671.8"/><use href="#g" x="279.6" y="670.3"/><use href="#g" x="267.2" y="682.8"/><use href="#g" x="271.2" y="684.6"/><use href="#g" x="278.2" y="686.1"/><use href="#g" x="245.8" y="689.0"/><use href="#g" x="246.1" y="704.7"/><use href="#g" x="308.5" y="676.1"/><use href="#g" x="313.2" y="671.5"/><use href="#g" x="230.7" y="680.9"/><use href="#g" x="390.1" y="674.1"/><use href="#g" x="363.3" y="682.8"/><use href="#g" x="348.2" y="690.7"/><use href="#g" x="393.1" y="686.1"/><use href="#g" x="416.1" y="674.4"/><use href="#g" x="417.6" y="680.2"/><use href="#g" x="413.5" y="687.2"/><use href="#g" x="381.4" y="704.7"/><use href="#g" x="400.1" y="684.6"/><use href="#g" x="457.7" y="677.6"/></g>
<path d="M129.7,822.4 L138.0,821.8 L147.5,820.7 L159.2,818.8 L173.8,815.4 L188.4,812.1 L217.6,805.0 L246.8,798.2 L261.4,794.9 L276.0,791.8 L305.2,785.7 L330.0,781.6 L361.8,777.6 L396.8,775.2 L440.0,771.5 L478.0,768.4 L536.0,765.8 L600.0,764.8 L684.0,764.2" fill="none" stroke="#8c1a8c" stroke-width="1.9" stroke-dasharray="4.1 2.6" stroke-linejoin="round"/>
<path d="M129.7,737.4 L157.7,731.4 L186.3,728.4 L227.2,725.7 L262.0,723.7 L310.0,720.1 L345.0,717.5 L380.0,713.8 L440.0,708.6 L480.0,705.3 L560.0,702.9 L684.0,700.1" fill="none" stroke="#111" stroke-width="1.8" stroke-linejoin="round"/>
<path d="M129.7,748.0 L158.7,748.0 L186.3,744.1 L217.0,739.4 L240.0,733.9 L286.7,726.2 L310.0,721.8 L333.4,719.5 L380.0,717.8 L440.0,715.2 L480.0,713.2 L560.0,710.3 L684.0,707.0" fill="none" stroke="#7a5630" stroke-width="1.65" stroke-linejoin="round"/>
<path d="M129.7,770.5 L135.2,770.2 L142.4,768.1 L145.4,767.8 L186.3,763.5 L227.2,760.0 L265.0,755.3 L306.7,750.2 L365.0,745.8 L420.0,743.0 L536.0,738.0 L684.0,732.2" fill="none" stroke="#800080" stroke-width="2.3" stroke-linejoin="round"/>
<g><use href="#bb" x="246.4" y="659.1"/><use href="#bb" x="329.3" y="668.9"/><use href="#bb" x="441.7" y="669.3"/><use href="#bb" x="532.6" y="662.3"/><use href="#bb" x="535.5" y="667.4"/><use href="#bb" x="158.9" y="674.1"/><use href="#bb" x="176.4" y="685.3"/><use href="#bb" x="208.1" y="690.7"/><use href="#bb" x="162.8" y="707.2"/><use href="#bb" x="185.5" y="708.7"/><use href="#bb" x="192.8" y="709.4"/><use href="#bb" x="197.9" y="704.7"/><use href="#bb" x="203.0" y="708.7"/><use href="#bb" x="203.7" y="710.1"/><use href="#bb" x="227.1" y="697.0"/><use href="#bb" x="228.1" y="708.0"/><use href="#bb" x="229.0" y="681.7"/><use href="#bb" x="221.2" y="718.9"/><use href="#bb" x="252.6" y="689.0"/><use href="#bb" x="272.3" y="683.4"/><use href="#bb" x="286.2" y="684.2"/><use href="#bb" x="303.0" y="679.1"/><use href="#bb" x="323.4" y="681.4"/><use href="#bb" x="328.1" y="672.9"/><use href="#bb" x="234.4" y="690.4"/><use href="#bb" x="257.7" y="698.5"/><use href="#bb" x="277.4" y="699.2"/><use href="#bb" x="298.6" y="694.1"/><use href="#bb" x="328.5" y="694.1"/><use href="#bb" x="289.1" y="707.7"/><use href="#bb" x="243.9" y="708.7"/><use href="#bb" x="234.4" y="709.4"/><use href="#bb" x="323.4" y="709.4"/><use href="#bb" x="238.8" y="718.2"/><use href="#bb" x="317.6" y="716.7"/><use href="#bb" x="340.9" y="688.2"/><use href="#bb" x="351.2" y="689.0"/><use href="#bb" x="366.5" y="690.4"/><use href="#bb" x="353.4" y="697.7"/><use href="#bb" x="358.5" y="699.9"/><use href="#bb" x="349.7" y="703.6"/><use href="#bb" x="338.5" y="708.7"/><use href="#bb" x="361.8" y="709.1"/><use href="#bb" x="376.7" y="706.5"/><use href="#bb" x="388.4" y="709.4"/><use href="#bb" x="351.2" y="713.8"/><use href="#bb" x="398.6" y="682.8"/><use href="#bb" x="402.3" y="689.0"/><use href="#bb" x="411.0" y="695.5"/><use href="#bb" x="416.4" y="697.7"/><use href="#bb" x="428.1" y="703.9"/><use href="#bb" x="333.6" y="718.2"/><use href="#bb" x="481.1" y="674.4"/><use href="#bb" x="499.3" y="676.1"/><use href="#bb" x="521.2" y="672.9"/><use href="#bb" x="528.5" y="675.5"/><use href="#bb" x="449.7" y="684.6"/><use href="#bb" x="470.9" y="680.9"/><use href="#bb" x="472.3" y="691.9"/><use href="#bb" x="454.1" y="700.4"/><use href="#bb" x="500.1" y="699.2"/><use href="#bb" x="519.3" y="690.4"/><use href="#bb" x="519.8" y="697.0"/><use href="#bb" x="520.2" y="705.0"/><use href="#bb" x="443.1" y="707.7"/><use href="#bb" x="470.9" y="707.2"/><use href="#bb" x="480.4" y="707.2"/><use href="#bb" x="465.0" y="714.1"/><use href="#bb" x="566.5" y="714.7"/></g>
<rect x="129.6" y="536.40" width="554.80" height="341.80" fill="none" stroke="#4d4d4d" stroke-width="1.45"/>
<path d="M160.10,878.20V866.70M160.10,536.40V545.60M199.87,878.20V872.70M199.87,536.40V541.40M239.63,878.20V866.70M239.63,536.40V545.60M279.40,878.20V872.70M279.40,536.40V541.40M319.17,878.20V866.70M319.17,536.40V545.60M358.94,878.20V872.70M358.94,536.40V541.40M398.70,878.20V866.70M398.70,536.40V545.60M438.47,878.20V872.70M438.47,536.40V541.40M478.24,878.20V866.70M478.24,536.40V545.60M518.01,878.20V872.70M518.01,536.40V541.40M557.77,878.20V866.70M557.77,536.40V545.60M597.54,878.20V872.70M597.54,536.40V541.40M637.31,878.20V866.70M677.08,878.20V872.70M677.08,536.40V541.40M129.60,878.25H140.10M684.40,878.25H673.90M129.60,861.14H135.10M684.40,861.14H678.90M129.60,851.13H135.10M684.40,851.13H678.90M129.60,844.02H135.10M684.40,844.02H678.90M129.60,838.51H135.10M684.40,838.51H678.90M129.60,834.01H135.10M684.40,834.01H678.90M129.60,830.21H135.10M684.40,830.21H678.90M129.60,826.91H135.10M684.40,826.91H678.90M129.60,824.00H135.10M684.40,824.00H678.90M129.60,821.40H140.10M684.40,821.40H673.90M129.60,804.29H135.10M684.40,804.29H678.90M129.60,794.28H135.10M684.40,794.28H678.90M129.60,787.17H135.10M684.40,787.17H678.90M129.60,781.66H135.10M684.40,781.66H678.90M129.60,777.16H135.10M684.40,777.16H678.90M129.60,773.36H135.10M684.40,773.36H678.90M129.60,770.06H135.10M684.40,770.06H678.90M129.60,767.15H135.10M684.40,767.15H678.90M129.60,764.55H140.10M684.40,764.55H673.90M129.60,747.44H135.10M684.40,747.44H678.90M129.60,737.43H135.10M684.40,737.43H678.90M129.60,730.32H135.10M684.40,730.32H678.90M129.60,724.81H135.10M684.40,724.81H678.90M129.60,720.31H135.10M684.40,720.31H678.90M129.60,716.51H135.10M684.40,716.51H678.90M129.60,713.21H135.10M684.40,713.21H678.90M129.60,710.30H135.10M684.40,710.30H678.90M129.60,707.70H140.10M684.40,707.70H673.90M129.60,690.59H135.10M684.40,690.59H678.90M129.60,680.58H135.10M684.40,680.58H678.90M129.60,673.47H135.10M684.40,673.47H678.90M129.60,667.96H135.10M684.40,667.96H678.90M129.60,663.46H135.10M684.40,663.46H678.90M129.60,659.66H135.10M684.40,659.66H678.90M129.60,656.36H135.10M684.40,656.36H678.90M129.60,653.45H135.10M684.40,653.45H678.90M129.60,650.85H140.10M684.40,650.85H673.90M129.60,633.74H135.10M684.40,633.74H678.90M129.60,623.73H135.10M684.40,623.73H678.90M129.60,616.62H135.10M684.40,616.62H678.90M129.60,611.11H135.10M684.40,611.11H678.90M129.60,606.61H135.10M684.40,606.61H678.90M129.60,602.81H135.10M684.40,602.81H678.90M129.60,599.51H135.10M684.40,599.51H678.90M129.60,596.60H135.10M684.40,596.60H678.90M129.60,594.00H140.10M684.40,594.00H673.90M129.60,576.89H135.10M684.40,576.89H678.90M129.60,566.88H135.10M684.40,566.88H678.90M129.60,559.77H135.10M684.40,559.77H678.90M129.60,554.26H135.10M684.40,554.26H678.90M129.60,549.76H135.10M684.40,549.76H678.90M129.60,545.96H135.10M684.40,545.96H678.90M129.60,542.66H135.10M684.40,542.66H678.90M129.60,539.75H135.10M684.40,539.75H678.90" stroke="#4d4d4d" stroke-width="1.2" fill="none"/>
<text x="55.97" y="547.45" font-family="Liberation Sans" font-size="27.5" fill="#000" textLength="29.58" lengthAdjust="spacingAndGlyphs">10</text>
<text x="86.23" y="535.25" font-family="Liberation Sans" font-size="18.7" textLength="32.86" lengthAdjust="spacingAndGlyphs">&#8722;42</text>
<text x="55.97" y="604.30" font-family="Liberation Sans" font-size="27.5" fill="#000" textLength="29.58" lengthAdjust="spacingAndGlyphs">10</text>
<text x="86.23" y="592.10" font-family="Liberation Sans" font-size="18.7" textLength="32.86" lengthAdjust="spacingAndGlyphs">&#8722;43</text>
<text x="55.97" y="661.15" font-family="Liberation Sans" font-size="27.5" fill="#000" textLength="29.58" lengthAdjust="spacingAndGlyphs">10</text>
<text x="86.24" y="648.95" font-family="Liberation Sans" font-size="18.7" textLength="32.46" lengthAdjust="spacingAndGlyphs">&#8722;44</text>
<text x="55.97" y="718.00" font-family="Liberation Sans" font-size="27.5" fill="#000" textLength="29.58" lengthAdjust="spacingAndGlyphs">10</text>
<text x="86.24" y="705.80" font-family="Liberation Sans" font-size="18.7" textLength="32.66" lengthAdjust="spacingAndGlyphs">&#8722;45</text>
<text x="55.97" y="774.85" font-family="Liberation Sans" font-size="27.5" fill="#000" textLength="29.58" lengthAdjust="spacingAndGlyphs">10</text>
<text x="86.23" y="762.65" font-family="Liberation Sans" font-size="18.7" textLength="32.86" lengthAdjust="spacingAndGlyphs">&#8722;46</text>
<text x="55.97" y="831.70" font-family="Liberation Sans" font-size="27.5" fill="#000" textLength="29.58" lengthAdjust="spacingAndGlyphs">10</text>
<text x="86.23" y="819.50" font-family="Liberation Sans" font-size="18.7" textLength="32.86" lengthAdjust="spacingAndGlyphs">&#8722;47</text>
<text x="55.97" y="888.55" font-family="Liberation Sans" font-size="27.5" fill="#000" textLength="29.58" lengthAdjust="spacingAndGlyphs">10</text>
<text x="86.23" y="876.35" font-family="Liberation Sans" font-size="18.7" textLength="32.86" lengthAdjust="spacingAndGlyphs">&#8722;48</text>
<text x="138.01" y="906.80" font-family="Liberation Sans" font-size="28" fill="#000" textLength="44.67" lengthAdjust="spacingAndGlyphs">100</text>
<text x="217.54" y="906.80" font-family="Liberation Sans" font-size="28" fill="#000" textLength="44.67" lengthAdjust="spacingAndGlyphs">150</text>
<text x="297.91" y="906.80" font-family="Liberation Sans" font-size="28" fill="#000" textLength="43.82" lengthAdjust="spacingAndGlyphs">200</text>
<text x="377.44" y="906.80" font-family="Liberation Sans" font-size="28" fill="#000" textLength="43.82" lengthAdjust="spacingAndGlyphs">250</text>
<text x="457.25" y="906.80" font-family="Liberation Sans" font-size="28" fill="#000" textLength="43.54" lengthAdjust="spacingAndGlyphs">300</text>
<text x="536.78" y="906.80" font-family="Liberation Sans" font-size="28" fill="#000" textLength="43.54" lengthAdjust="spacingAndGlyphs">350</text>
<text x="616.84" y="906.80" font-family="Liberation Sans" font-size="28" fill="#000" textLength="43.00" lengthAdjust="spacingAndGlyphs">400</text>
<text x="568.66" y="693.90" font-family="Liberation Sans" font-size="14" font-weight="bold" fill="#000" textLength="98.17" lengthAdjust="spacingAndGlyphs">PandaX–II 2016</text>
<text x="582.86" y="719.60" font-family="Liberation Sans" font-size="14" font-weight="bold" fill="#6e4a22" textLength="60.27" lengthAdjust="spacingAndGlyphs">LUX 2016</text>
<text x="553.67" y="747.80" font-family="Liberation Sans" font-size="14" font-weight="bold" fill="#800080" textLength="119.89" lengthAdjust="spacingAndGlyphs">XENON1T (1 t × yr)</text>
<text x="295.67" y="808.50" font-family="Liberation Sans" font-size="14" font-weight="bold" fill="#800080" textLength="63.31" lengthAdjust="spacingAndGlyphs">XENON1T</text>
<path d="M542,536.40V609.20H684.40" fill="none" stroke="#555" stroke-width="1.1"/>
<path d="M545.2,555.2H553.8M549.5,550.9V559.5" stroke="#0c0ca8" stroke-width="1.7" fill="none"/>
<use href="#g" x="549.7" y="577.0"/>
<path d="M546.8,596.3C548.5,597.8 550,600.8 551.8,604.4M552.8,596.0C551,598.3 548.5,601.8 546.2,604.6" stroke="#ff8a1c" stroke-width="1.3" stroke-linecap="round" fill="none"/>
<text x="560.85" y="559.20" font-family="Liberation Sans" font-size="15.8" fill="#000" textLength="102.03" lengthAdjust="spacingAndGlyphs">nGMM, <tspan font-style="italic">ξ</tspan> = 1</text>
<text x="557.55" y="581.70" font-family="Liberation Sans" font-size="15.8" fill="#000" textLength="108.43" lengthAdjust="spacingAndGlyphs">nAMSB, <tspan font-style="italic">ξ</tspan> = 1</text>
<text x="557.69" y="604.20" font-family="Liberation Sans" font-size="15.8" fill="#000" textLength="108.22" lengthAdjust="spacingAndGlyphs">nNUHM2, <tspan font-style="italic">ξ</tspan> = 1</text>
<text x="189.28" y="516.70" font-family="Liberation Sans" font-size="29" fill="#000" textLength="20.48" lengthAdjust="spacingAndGlyphs">Δ</text>
<text x="209.85" y="522.90" font-family="Liberation Sans" font-size="20.5" fill="#000" textLength="33.17" lengthAdjust="spacingAndGlyphs">EW</text>
<text x="253.82" y="517.10" font-family="Liberation Sans" font-size="28.3" fill="#000" textLength="368.99" lengthAdjust="spacingAndGlyphs">&lt; 30 &amp; 122 &lt; mh &lt; 128 GeV</text>
<text x="-1.09" y="518.00" font-family="Liberation Serif" font-size="33" fill="#000" textLength="10.76" lengthAdjust="spacingAndGlyphs" stroke="#000" stroke-width="0.75">(</text>
<text x="9.88" y="519.90" font-family="Liberation Serif" font-size="34.4" font-weight="bold" fill="#000" textLength="17.99" lengthAdjust="spacingAndGlyphs">b</text>
<text x="29.02" y="518.00" font-family="Liberation Serif" font-size="33" fill="#000" textLength="10.89" lengthAdjust="spacingAndGlyphs" stroke="#000" stroke-width="0.75">)</text>
<g transform="rotate(-90)"><text x="-782.18" y="35.60" font-family="Liberation Sans" font-size="34" font-style="italic" fill="#000" textLength="37.20" lengthAdjust="spacingAndGlyphs">ξσ</text><text x="-745.33" y="18.50" font-family="Liberation Sans" font-size="25.5" fill="#000" textLength="23.21" lengthAdjust="spacingAndGlyphs">SI</text><text x="-709.55" y="35.20" font-family="Liberation Sans" font-size="34" fill="#000" textLength="54.09" lengthAdjust="spacingAndGlyphs">(cm</text><text x="-656.06" y="18.50" font-family="Liberation Sans" font-size="24" fill="#000" textLength="14.02" lengthAdjust="spacingAndGlyphs">2</text><text x="-640.30" y="35.20" font-family="Liberation Sans" font-size="34" fill="#000" textLength="10.12" lengthAdjust="spacingAndGlyphs">)</text></g>
<text x="341.55" y="446.20" font-family="Liberation Sans" font-size="31" font-style="italic" fill="#000" textLength="27.15" lengthAdjust="spacingAndGlyphs">m</text>
<text x="369.26" y="460.00" font-family="Liberation Sans" font-size="25.4" font-style="italic" fill="#000" textLength="13.97" lengthAdjust="spacingAndGlyphs">Z</text>
<text x="384.11" y="464.70" font-family="Liberation Sans" font-size="18" fill="#000" textLength="6.85" lengthAdjust="spacingAndGlyphs">1</text>
<path d="M377.6,435.6 C379,432.4 381,432.2 382.2,433.6 C383.4,435 385,434.6 386,431.9" stroke="#000" stroke-width="1.7" fill="none"/>
<text x="394.84" y="446.20" font-family="Liberation Sans" font-size="27" fill="#000" textLength="86.20" lengthAdjust="spacingAndGlyphs">[GeV]</text>
<text x="328.50" y="954.00" font-family="Liberation Sans" font-size="34.5" font-style="italic" fill="#000" textLength="29.21" lengthAdjust="spacingAndGlyphs">m</text>
<text x="356.63" y="967.20" font-family="Liberation Sans" font-size="24" font-style="italic" fill="#000" textLength="13.14" lengthAdjust="spacingAndGlyphs">Z</text>
<text x="370.98" y="972.40" font-family="Liberation Sans" font-size="18" fill="#000" textLength="7.76" lengthAdjust="spacingAndGlyphs">1</text>
<path d="M364.5,943 C366,940 368,939.8 369.2,941.2 C370.4,942.6 372,942.2 373.2,939.8" stroke="#000" stroke-width="1.7" fill="none"/>
<text x="392.88" y="953.30" font-family="Liberation Sans" font-size="27" fill="#000" textLength="84.62" lengthAdjust="spacingAndGlyphs">[GeV]</text></svg>
</body></html>
